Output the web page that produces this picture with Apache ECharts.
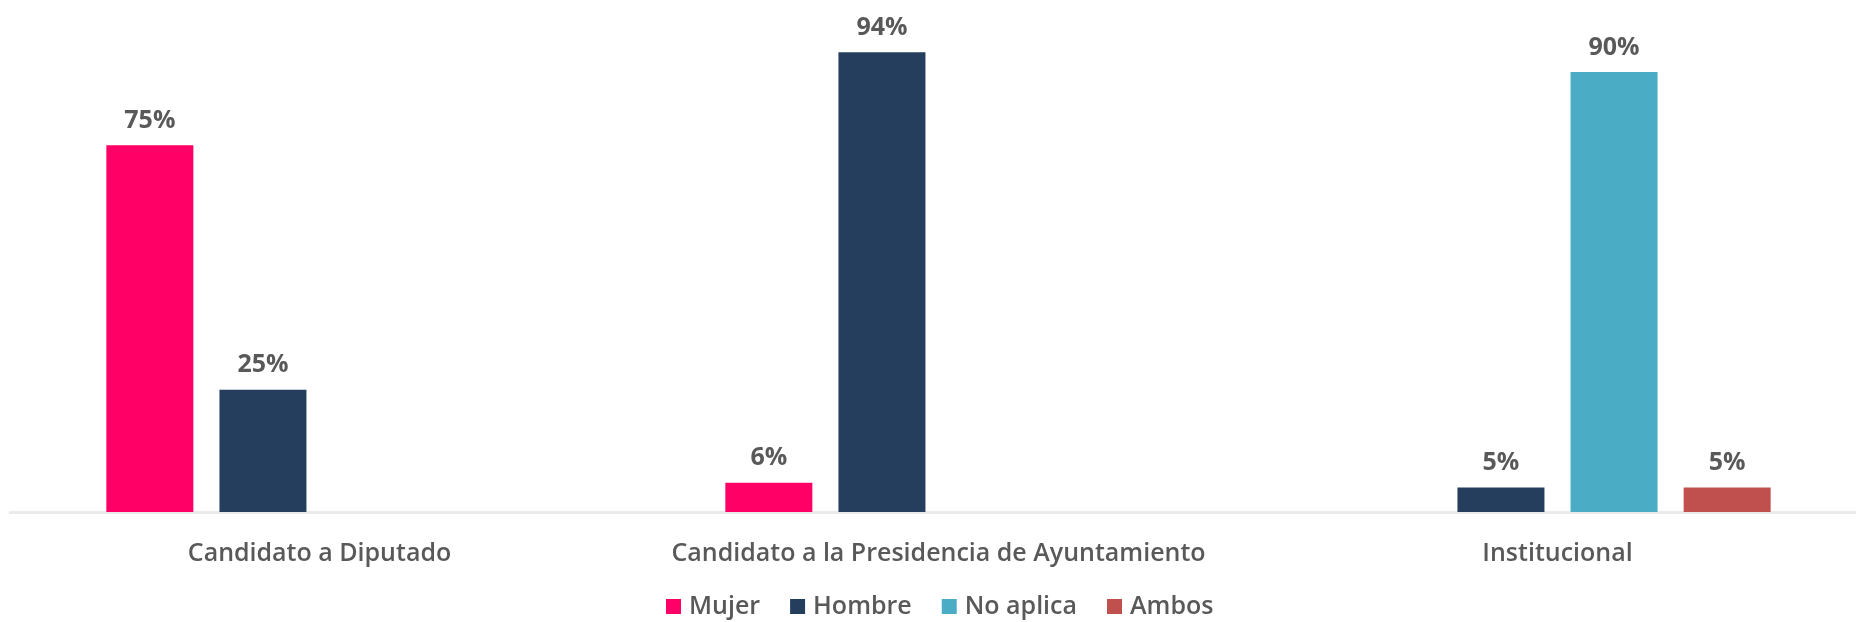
<!DOCTYPE html>
<html>
<head>
<meta charset="utf-8">
<script src="https://cdn.jsdelivr.net/npm/echarts@6/dist/echarts.min.js"></script>
<style>
html,body{margin:0;padding:0;background:#fff;overflow:hidden;width:1856px;height:622px;}
#chart{width:1880px;height:622px;}
</style>
</head>
<body>
<div id="chart"></div>
<script>
const categories = ['Candidato a Diputado', 'Candidato a la Presidencia de Ayuntamiento', 'Institucional'];
const seriesNames = ['Mujer', 'Hombre', 'No aplica', 'Ambos'];
const mujer = [75, 6, null];
const hombre = [25, 94, 5];
const noAplica = [null, null, 90];
const ambos = [null, null, 5];
const colors = ['#FF0066', '#253E5E', '#4BACC6', '#C0504D'];

const dataSets = [mujer, hombre, noAplica, ambos];
const FONT = '"Open Sans", "Segoe UI", sans-serif';

const chart = echarts.init(document.getElementById('chart'), null, {renderer: 'canvas'});
chart.setOption({
  backgroundColor: '#ffffff',
  animation: false,
  grid: {left: 10, width: 1857, top: 23, bottom: 110, containLabel: false},
  legend: {
    data: seriesNames,
    top: 589,
    left: 661,
    icon: 'rect',
    itemWidth: 15,
    itemHeight: 15,
    itemGap: 30,
    textStyle: {fontFamily: FONT, fontSize: 25, fontWeight: 600, color: '#595959', padding: [0, 0, 0, 3]}
  },
  xAxis: {
    type: 'category',
    data: categories,
    axisLine: {show: true, lineStyle: {color: '#EBEBEB', width: 3}},
    axisTick: {show: false},
    axisLabel: {fontFamily: FONT, fontSize: 25, fontWeight: 600, color: '#595959', margin: 29, interval: 0}
  },
  yAxis: {
    type: 'value',
    min: 0,
    max: 100,
    show: false,
    splitLine: {show: false}
  },
  series: seriesNames.map((name, i) => ({
    name: name,
    type: 'bar',
    data: dataSets[i],
    barWidth: 87,
    barGap: '30%',
    itemStyle: {color: colors[i]},
    label: {
      show: true,
      position: 'top',
      distance: 12,
      formatter: p => p.value + '%',
      fontFamily: FONT,
      fontSize: 25,
      fontWeight: 'bold',
      color: '#595959'
    }
  }))
});
</script>
</body>
</html>
